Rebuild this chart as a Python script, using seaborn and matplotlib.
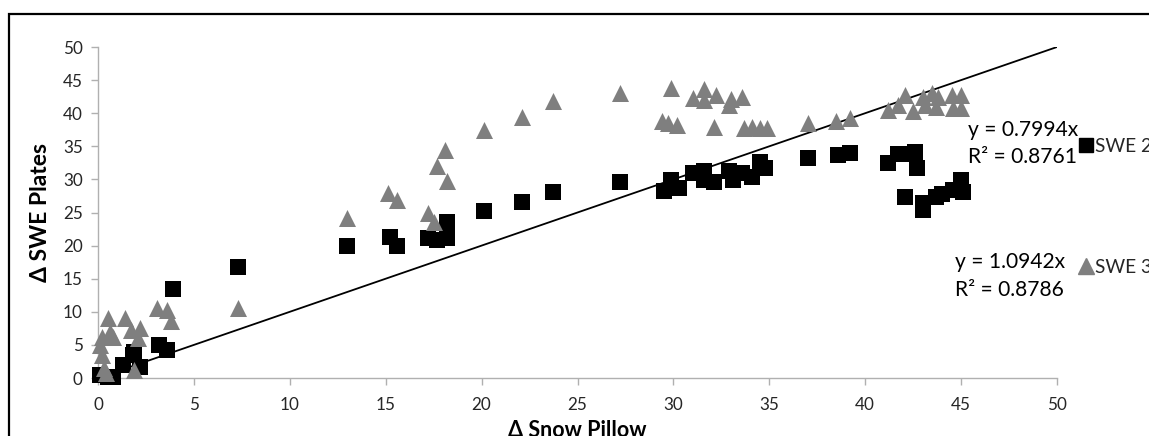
import numpy as np
import pandas as pd
import matplotlib
matplotlib.use("Agg")
import matplotlib.pyplot as plt
import matplotlib.patches as mpatches
from matplotlib.lines import Line2D
import seaborn as sns

# ---------------- data ----------------
swe2_x = [0.1, 0.5, 0.8, 1.3, 1.8, 1.9, 2.2, 3.2, 3.6, 3.9, 7.3, 13.0, 15.2, 15.6,
          17.2, 17.7, 18.2, 18.2, 20.1, 22.1, 23.7, 27.2, 29.5, 29.9, 30.3, 31.0,
          31.6, 31.6, 32.1, 32.9, 33.1, 33.6, 34.1, 34.5, 34.8, 37.0, 38.6, 39.2,
          41.2, 41.7, 42.1, 42.6, 42.7, 42.5, 43.0, 43.0, 43.7, 44.0, 44.6, 45.0, 45.1]
swe2_y = [0.5, 0.2, 0.2, 2.0, 3.5, 4.0, 1.7, 5.0, 4.2, 13.4, 16.8, 20.0, 21.3, 20.0,
          21.1, 20.8, 23.6, 21.1, 25.3, 26.6, 28.1, 29.6, 28.2, 29.9, 28.7, 31.0,
          31.3, 29.9, 29.6, 31.3, 29.9, 31.0, 30.4, 32.6, 31.7, 33.2, 33.7, 34.0,
          32.5, 33.8, 27.3, 34.1, 31.7, 33.9, 26.4, 25.4, 27.3, 27.8, 28.4, 29.9, 28.1]

swe3_x = [0.1, 0.2, 0.2, 0.3, 0.4, 0.5, 0.6, 0.8, 1.4, 1.7, 1.9, 2.1, 2.2, 3.1, 3.6,
          3.8, 7.3, 13.0, 15.1, 15.6, 17.2, 17.5, 17.7, 18.1, 18.2, 20.1, 22.1,
          23.7, 27.2, 29.4, 29.7, 29.9, 30.2, 31.0, 31.6, 31.6, 32.1, 32.2, 32.9,
          33.0, 33.6, 33.7, 34.1, 34.5, 34.9, 37.0, 38.5, 39.2, 41.2, 41.7, 42.1,
          42.5, 43.0, 43.1, 43.5, 43.7, 43.8, 44.5, 44.6, 45.0, 45.0]
swe3_y = [5.0, 6.2, 3.5, 1.5, 0.8, 9.1, 7.0, 6.2, 9.1, 7.3, 1.2, 6.0, 7.6, 10.6, 10.3,
          8.6, 10.6, 24.2, 27.9, 26.9, 24.9, 23.6, 32.0, 34.4, 29.7, 37.5, 39.5,
          41.8, 43.0, 38.8, 38.5, 43.8, 38.2, 42.3, 43.6, 42.0, 37.9, 42.7, 41.3,
          42.2, 42.4, 37.8, 37.9, 37.8, 37.8, 38.5, 38.8, 39.3, 40.5, 41.2, 42.7,
          40.3, 42.4, 41.2, 43.0, 41.0, 42.4, 42.7, 40.8, 42.7, 40.8]

ref_x = [0, 50]
ref_y = [0, 50]

series_names = ["SWE 2", "SWE 3"]
eq_lines = [["y = 0.7994x", "R\u00b2 = 0.8761"], ["y = 1.0942x", "R\u00b2 = 0.8786"]]
x_ticks = list(range(0, 55, 5))
y_ticks = list(range(0, 55, 5))

df = pd.concat([
    pd.DataFrame({"x": swe2_x, "y": swe2_y, "series": series_names[0]}),
    pd.DataFrame({"x": swe3_x, "y": swe3_y, "series": series_names[1]}),
], ignore_index=True)

# ---------------- figure ----------------
W, H = 1149, 436
sns.set_theme(style="white")
plt.rcParams["font.family"] = ["Lato", "DejaVu Sans"]

fig = plt.figure(figsize=(W / 100, H / 100), dpi=100)
renderer = fig.canvas.get_renderer()


def fit_size(text, target_px, base=14.0, weight="normal", vertical=False):
    t = fig.text(0, 0, text, fontsize=base, fontweight=weight)
    bb = t.get_window_extent(renderer)
    t.remove()
    return base * target_px / bb.width


tick_fs = fit_size("50", 20)
eq_fs = fit_size("y = 0.7994x", 110)
lab_fs = fit_size("\u0394 SWE Plates", 140, weight="bold")
xlab_fs = fit_size("\u0394 Snow Pillow", 139, weight="bold")
leg_fs = tick_fs * 1.12

ax = fig.add_axes([98 / W, 1 - 378 / H, (1057 - 98) / W, (378 - 47) / H])

colors = {"SWE 2": "black", "SWE 3": "#7f7f7f"}
markers = {"SWE 2": "s", "SWE 3": "^"}
sizes = {"SWE 2": 118, "SWE 3": 150}

for name in series_names:
    sub = df[df["series"] == name]
    sns.scatterplot(data=sub, x="x", y="y", ax=ax, color=colors[name],
                    marker=markers[name], s=sizes[name], linewidth=0,
                    clip_on=False, legend=False, zorder=3 if name == "SWE 2" else 4)

sns.lineplot(x=ref_x, y=ref_y, ax=ax, color="black", linewidth=1.3, zorder=2)

ax.set_xlim(0, 50)
ax.set_ylim(0, 50)
ax.set_xticks(x_ticks)
ax.set_yticks(y_ticks)
ax.set_xticklabels([str(t) for t in x_ticks])
ax.set_yticklabels([str(t) for t in y_ticks])
for s in ["top", "right"]:
    ax.spines[s].set_visible(False)
for s in ["left", "bottom"]:
    ax.spines[s].set_color("#b0b0b0")
    ax.spines[s].set_linewidth(1.0)
ax.tick_params(axis="both", direction="out", length=5, width=1.0, color="#b0b0b0",
               labelsize=tick_fs, labelcolor="#262626", pad=6, bottom=True, left=True)
ax.tick_params(axis="x", pad=9)

ax.set_xlabel("\u0394 Snow Pillow", fontsize=xlab_fs, fontweight="bold", color="black",
              va="top")
ax.set_ylabel("\u0394 SWE Plates", fontsize=lab_fs, fontweight="bold", color="black")
ax.xaxis.set_label_coords(0.5, (378 - 420) / (378 - 47))
ax.yaxis.set_label_coords((51 - 98) / (1057 - 98), 0.5)

# trendline equations
eq_pos = [(968, 130, 157), (955, 262, 290)]
for (x0, y1, y2), lines in zip(eq_pos, eq_lines):
    fig.text(x0 / W, 1 - y1 / H, lines[0], fontsize=eq_fs, color="black",
             ha="left", va="center")
    fig.text(x0 / W, 1 - y2 / H, lines[1], fontsize=eq_fs, color="black",
             ha="left", va="center")

# legend entries (Excel style, separate positions)
h2 = Line2D([], [], linestyle="none", marker="s", color="black", markersize=10)
h3 = Line2D([], [], linestyle="none", marker="^", color="#7f7f7f", markersize=11)
for h, name, yc in [(h2, series_names[0], 146), (h3, series_names[1], 267)]:
    fig.legend([h], [name], loc="center left",
               bbox_to_anchor=(1079 / W, 1 - yc / H), frameon=False,
               fontsize=leg_fs, handlelength=0.75, handletextpad=0.1,
               borderpad=0, borderaxespad=0)

# outer chart border (cropped)
border = mpatches.Rectangle((9 / W, -0.5), 2.0, 0.5 + 1 - 14 / H,
                            transform=fig.transFigure, fill=False,
                            edgecolor="black", linewidth=1.6, clip_on=False)
fig.add_artist(border)

fig.savefig("out.png", dpi=100, facecolor="white")
